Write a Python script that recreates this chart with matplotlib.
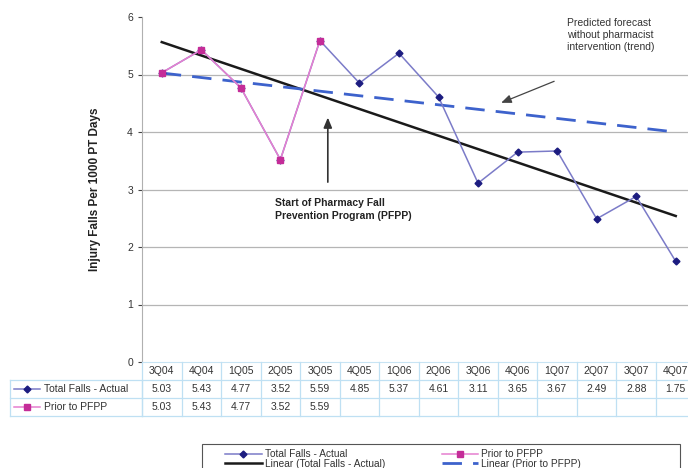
import matplotlib.pyplot as plt
import numpy as np
from matplotlib.lines import Line2D
from matplotlib.patches import Rectangle
from matplotlib.transforms import blended_transform_factory

plt.rcParams['font.family'] = ['Liberation Sans', 'DejaVu Sans']

# data
quarters = ["3Q04", "4Q04", "1Q05", "2Q05", "3Q05", "4Q05", "1Q06", "2Q06",
            "3Q06", "4Q06", "1Q07", "2Q07", "3Q07", "4Q07"]
total_falls = [5.03, 5.43, 4.77, 3.52, 5.59, 4.85, 5.37, 4.61, 3.11, 3.65,
               3.67, 2.49, 2.88, 1.75]
prior_pfpp = [5.03, 5.43, 4.77, 3.52, 5.59]

W, H = 688, 468
fig = plt.figure(figsize=(W / 100, H / 100), dpi=100)


def fx(px):
    return px / W


def fy(py):
    return 1 - py / H


ax = fig.add_axes([fx(142), fy(362), 553.5 / W, 345 / H])
x = np.arange(len(quarters))
xp = np.arange(len(prior_pfpp))

# colours
c_tot_line = "#7b7bc8"
c_tot_mk = "#1c1c80"
c_pri_line = "#e67fd0"
c_pri_mk = "#c42c98"
c_dash = "#3d62cc"

# trend lines
m1, b1 = np.polyfit(x, total_falls, 1)
m2, b2 = np.polyfit(xp, prior_pfpp, 1)
ax.plot(x, m1 * x + b1, color="#1a1a1a", lw=1.8, zorder=3)
ax.plot(x, m2 * x + b2, color=c_dash, lw=2, dashes=(7, 4), zorder=3)

ax.plot(x, total_falls, color=c_tot_line, lw=1.1, marker="D", ms=3.5,
        mfc=c_tot_mk, mec=c_tot_mk, zorder=4)
ax.plot(xp, prior_pfpp, color=c_pri_line, lw=1.1, marker="s", ms=4.5,
        mfc=c_pri_mk, mec=c_pri_mk, zorder=5)

ax.set_xlim(-0.5, len(quarters) - 0.5)
ax.set_ylim(0, 6)
ax.set_yticks(range(7))
ax.set_xticks([])
ax.tick_params(axis="y", labelsize=7.5, colors="#444444", length=3, width=0.8)
for t in ax.get_yticklabels():
    t.set_color("#333333")
# gridlines 1..5 only
for yv in range(1, 6):
    ax.axhline(yv, color="#b5b5b5", lw=0.9, zorder=1)
for s in ["top", "right"]:
    ax.spines[s].set_visible(False)
ax.spines["left"].set_color("#b0b0b0")
ax.spines["bottom"].set_color("#c8e4f4")
ax.set_ylabel("Injury Falls Per 1000 PT Days", fontsize=8.5, fontweight="bold",
              color="#222222", labelpad=19)

# annotations
ax.annotate("", xy=(4.2, 4.30), xytext=(4.2, 3.08),
            arrowprops=dict(arrowstyle="-|>,head_length=0.6,head_width=0.25",
                            color="#333333", lw=1.2))
ax.text(2.86, 2.85, "Start of Pharmacy Fall\nPrevention Program (PFPP)",
        fontsize=7.5, fontweight="bold", color="#222222", va="top", ha="left",
        linespacing=1.3)
ax.annotate("", xy=(8.52, 4.49), xytext=(9.99, 4.90),
            arrowprops=dict(arrowstyle="-|>,head_length=0.6,head_width=0.25",
                            color="#444444", lw=0.9))
ax.text(10.24, 5.98, "Predicted forecast\nwithout pharmacist\nintervention (trend)",
        fontsize=7.5, color="#333333", va="top", ha="left", linespacing=1.25)

# data table under the axis
tr = blended_transform_factory(ax.transData, fig.transFigure)
bc = "#bfe0f3"
rows_px = [362, 380, 398, 416]
n = len(quarters)
for k in range(n + 1):
    fig.add_artist(Line2D([k - 0.5, k - 0.5], [fy(rows_px[0]), fy(rows_px[3])],
                          transform=tr, color=bc, lw=0.9))
for r in rows_px[1:]:
    fig.add_artist(Line2D([fx(10), fx(W + 20)], [fy(r), fy(r)],
                          transform=fig.transFigure, color=bc, lw=0.9))
for xx in [10, 142]:
    fig.add_artist(Line2D([fx(xx), fx(xx)], [fy(rows_px[1]), fy(rows_px[3])],
                          transform=fig.transFigure, color=bc, lw=0.9))

ymid = [(rows_px[i] + rows_px[i + 1]) / 2 for i in range(3)]
for i, q in enumerate(quarters):
    fig.text(i, fy(ymid[0]), q, transform=tr, ha="center", va="center",
             fontsize=7.5, color="#333333")
    fig.text(i, fy(ymid[1]), f"{total_falls[i]:.2f}", transform=tr,
             ha="center", va="center", fontsize=7.5, color="#333333")
for i, v in enumerate(prior_pfpp):
    fig.text(i, fy(ymid[2]), f"{v:.2f}", transform=tr, ha="center",
             va="center", fontsize=7.5, color="#333333")

# row keys in the table
fig.add_artist(Line2D([fx(14), fx(40)], [fy(ymid[1])] * 2, color=c_tot_line, lw=1.1))
fig.add_artist(Line2D([fx(27)], [fy(ymid[1])], marker="D", ms=3.5, color=c_tot_mk))
fig.text(fx(44), fy(ymid[1]), "Total Falls - Actual", va="center", fontsize=7.5,
         color="#333333")
fig.add_artist(Line2D([fx(14), fx(40)], [fy(ymid[2])] * 2, color=c_pri_line, lw=1.1))
fig.add_artist(Line2D([fx(27)], [fy(ymid[2])], marker="s", ms=4.5, color=c_pri_mk))
fig.text(fx(44), fy(ymid[2]), "Prior to PFPP", va="center", fontsize=7.5,
         color="#333333")

# legend at the bottom
fig.add_artist(Rectangle((fx(202), fy(475)), fx(680) - fx(202), fy(444) - fy(475),
                         transform=fig.transFigure, fill=False, ec="#555555", lw=0.8))
handles = [
    Line2D([], [], color=c_tot_line, lw=1.1, marker="D", ms=3.5, mfc=c_tot_mk, mec=c_tot_mk),
    Line2D([], [], color="#1a1a1a", lw=1.8),
    Line2D([], [], color=c_pri_line, lw=1.1, marker="s", ms=4.5, mfc=c_pri_mk, mec=c_pri_mk),
    Line2D([], [], color=c_dash, lw=2, dashes=(7, 4)),
]
labels = ["Total Falls - Actual", "Linear (Total Falls - Actual)",
          "Prior to PFPP", "Linear (Prior to PFPP)"]
fig.legend(handles, labels, ncol=2, loc="upper left",
           bbox_to_anchor=(fx(220), fy(444)), frameon=False, fontsize=7.3,
           handlelength=3.6, handletextpad=0.3, labelspacing=-0.05,
           columnspacing=5.6, borderpad=0.0, labelcolor="#333333")

fig.savefig("out.png", dpi=100)
